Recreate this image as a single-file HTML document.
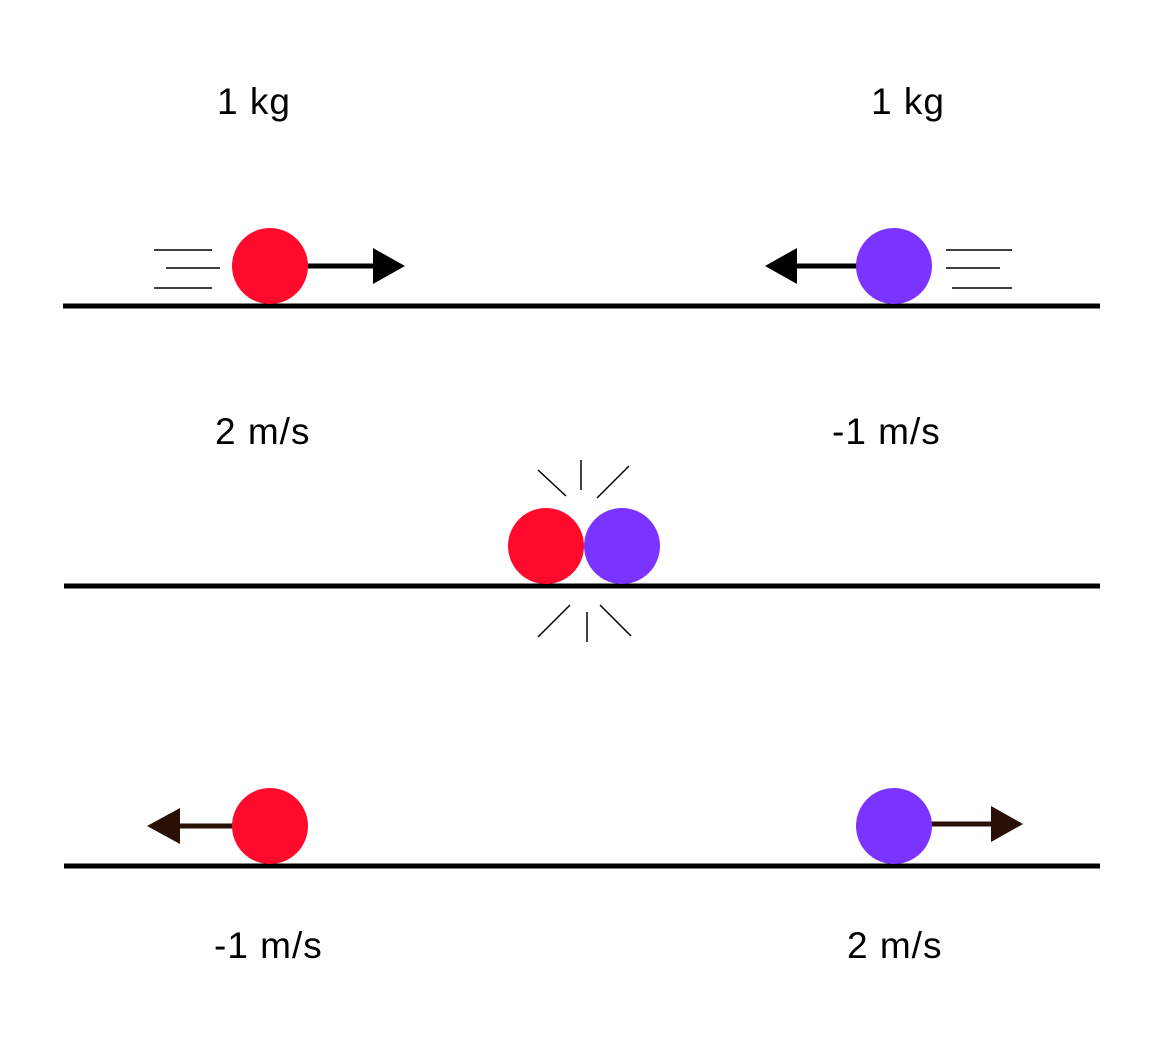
<!DOCTYPE html>
<html><head><meta charset="utf-8"><style>
html,body{margin:0;padding:0;background:#fff;}
svg{display:block;}
text{font-family:"Liberation Sans",sans-serif;font-size:37px;letter-spacing:1px;fill:#000;}
</style></head><body>
<svg width="1158" height="1056" viewBox="0 0 1158 1056">
<g>
  <text x="217" y="114">1 kg</text>
  <text x="871" y="114">1 kg</text>
  <line x1="63" y1="306" x2="1100" y2="306" stroke="#000" stroke-width="5"/>
  <g stroke="#000" stroke-width="1.5">
    <line x1="154" y1="250" x2="212" y2="250"/>
    <line x1="166" y1="268" x2="220" y2="268"/>
    <line x1="154" y1="288" x2="212" y2="288"/>
  </g>
  <g stroke="#000" stroke-width="1.5">
    <line x1="946" y1="250" x2="1012" y2="250"/>
    <line x1="946" y1="268" x2="1000" y2="268"/>
    <line x1="952" y1="288" x2="1012" y2="288"/>
  </g>
  <line x1="300" y1="266" x2="376" y2="266" stroke="#000" stroke-width="5"/>
  <polygon points="373,248 405,266 373,284" fill="#000"/>
  <line x1="794" y1="266" x2="862" y2="266" stroke="#000" stroke-width="5"/>
  <polygon points="797,248 765,266 797,284" fill="#000"/>
  <circle cx="270" cy="266" r="38" fill="#ff0a2d"/>
  <circle cx="894" cy="266" r="38" fill="#7b33ff"/>
  <text x="215" y="444">2 m/s</text>
  <text x="832" y="444">-1 m/s</text>
</g>
<g>
  <line x1="64" y1="586" x2="1100" y2="586" stroke="#000" stroke-width="5"/>
  <g stroke="#000" stroke-width="1.5">
    <line x1="538" y1="470" x2="566" y2="496"/>
    <line x1="581" y1="460" x2="581" y2="490"/>
    <line x1="629" y1="466" x2="597" y2="498"/>
    <line x1="538" y1="637" x2="570" y2="605"/>
    <line x1="587" y1="612" x2="587" y2="642"/>
    <line x1="600" y1="605" x2="631" y2="636"/>
  </g>
  <circle cx="546" cy="546" r="38" fill="#ff0a2d"/>
  <circle cx="622" cy="546" r="38" fill="#7b33ff"/>
</g>
<g>
  <line x1="64" y1="866" x2="1100" y2="866" stroke="#000" stroke-width="5"/>
  <line x1="177" y1="826" x2="240" y2="826" stroke="#2a0f05" stroke-width="5"/>
  <polygon points="180,808 147,826 180,844" fill="#2a0f05"/>
  <line x1="924" y1="824" x2="995" y2="824" stroke="#2a0f05" stroke-width="5"/>
  <polygon points="991,806 1023,824 991,842" fill="#2a0f05"/>
  <circle cx="270" cy="826" r="38" fill="#ff0a2d"/>
  <circle cx="894" cy="826" r="38" fill="#7b33ff"/>
  <text x="214" y="958">-1 m/s</text>
  <text x="847" y="958">2 m/s</text>
</g>
</svg>
</body></html>
